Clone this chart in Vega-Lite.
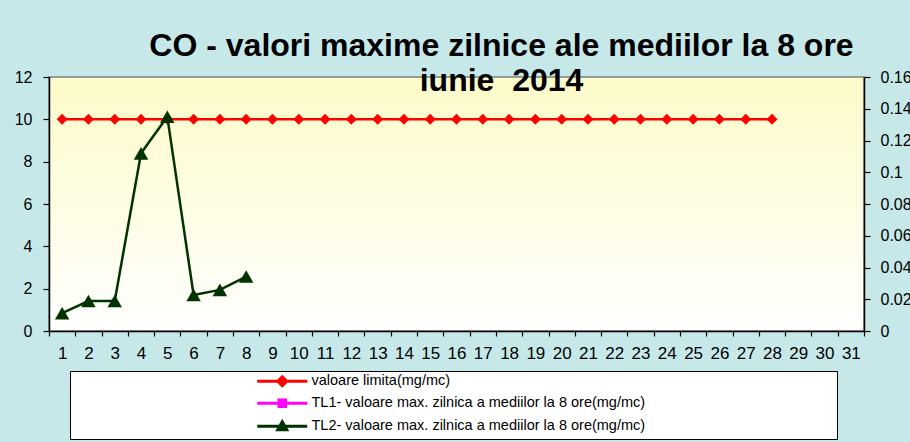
{
  "$schema": "https://vega.github.io/schema/vega-lite/v6.json",
  "width": 815,
  "height": 254,
  "autosize": {"type": "none"},
  "padding": {"left": 49, "top": 77, "right": 46, "bottom": 111},
  "background": "#c6e8e9",
  "title": {
    "text": ["CO - valori maxime zilnice ale mediilor la 8 ore", "iunie\u00a0 2014"],
    "font": "Liberation Sans",
    "fontSize": 32,
    "fontWeight": "bold",
    "color": "#000000",
    "anchor": "middle",
    "dx": 45,
    "offset": -29,
    "lineHeight": 35
  },
  "config": {
    "view": {
      "fill": {
        "gradient": "linear",
        "x1": 0, "y1": 0, "x2": 0, "y2": 1,
        "stops": [
          {"offset": 0, "color": "#fdfbc8"},
          {"offset": 1, "color": "#ffffff"}
        ]
      },
      "stroke": "#7f7f7f",
      "strokeWidth": 1.5
    },
    "axis": {
      "domainColor": "#000000",
      "tickColor": "#000000",
      "labelColor": "#000000",
      "labelFont": "Liberation Sans",
      "labelFontSize": 16,
      "grid": false,
      "title": null,
      "tickSize": 6,
      "domainWidth": 1.5,
      "tickWidth": 1.2
    },
    "legend": {
      "labelFont": "Liberation Sans",
      "labelFontSize": 14.5,
      "labelColor": "#000000"
    }
  },
  "datasets": {
    "d": [
      {"day": 1, "series": "valoare limita(mg/mc)", "value": 10},
      {"day": 2, "series": "valoare limita(mg/mc)", "value": 10},
      {"day": 3, "series": "valoare limita(mg/mc)", "value": 10},
      {"day": 4, "series": "valoare limita(mg/mc)", "value": 10},
      {"day": 5, "series": "valoare limita(mg/mc)", "value": 10},
      {"day": 6, "series": "valoare limita(mg/mc)", "value": 10},
      {"day": 7, "series": "valoare limita(mg/mc)", "value": 10},
      {"day": 8, "series": "valoare limita(mg/mc)", "value": 10},
      {"day": 9, "series": "valoare limita(mg/mc)", "value": 10},
      {"day": 10, "series": "valoare limita(mg/mc)", "value": 10},
      {"day": 11, "series": "valoare limita(mg/mc)", "value": 10},
      {"day": 12, "series": "valoare limita(mg/mc)", "value": 10},
      {"day": 13, "series": "valoare limita(mg/mc)", "value": 10},
      {"day": 14, "series": "valoare limita(mg/mc)", "value": 10},
      {"day": 15, "series": "valoare limita(mg/mc)", "value": 10},
      {"day": 16, "series": "valoare limita(mg/mc)", "value": 10},
      {"day": 17, "series": "valoare limita(mg/mc)", "value": 10},
      {"day": 18, "series": "valoare limita(mg/mc)", "value": 10},
      {"day": 19, "series": "valoare limita(mg/mc)", "value": 10},
      {"day": 20, "series": "valoare limita(mg/mc)", "value": 10},
      {"day": 21, "series": "valoare limita(mg/mc)", "value": 10},
      {"day": 22, "series": "valoare limita(mg/mc)", "value": 10},
      {"day": 23, "series": "valoare limita(mg/mc)", "value": 10},
      {"day": 24, "series": "valoare limita(mg/mc)", "value": 10},
      {"day": 25, "series": "valoare limita(mg/mc)", "value": 10},
      {"day": 26, "series": "valoare limita(mg/mc)", "value": 10},
      {"day": 27, "series": "valoare limita(mg/mc)", "value": 10},
      {"day": 28, "series": "valoare limita(mg/mc)", "value": 10},
      {"day": 1, "series": "TL2- valoare max. zilnica a mediilor la 8 ore(mg/mc)", "value": 0.0112},
      {"day": 2, "series": "TL2- valoare max. zilnica a mediilor la 8 ore(mg/mc)", "value": 0.0189},
      {"day": 3, "series": "TL2- valoare max. zilnica a mediilor la 8 ore(mg/mc)", "value": 0.0189},
      {"day": 4, "series": "TL2- valoare max. zilnica a mediilor la 8 ore(mg/mc)", "value": 0.1119},
      {"day": 5, "series": "TL2- valoare max. zilnica a mediilor la 8 ore(mg/mc)", "value": 0.135},
      {"day": 6, "series": "TL2- valoare max. zilnica a mediilor la 8 ore(mg/mc)", "value": 0.0227},
      {"day": 7, "series": "TL2- valoare max. zilnica a mediilor la 8 ore(mg/mc)", "value": 0.0259},
      {"day": 8, "series": "TL2- valoare max. zilnica a mediilor la 8 ore(mg/mc)", "value": 0.0343}
    ]
  },
  "data": {"name": "d"},
  "encoding": {
    "x": {
      "field": "day",
      "type": "ordinal",
      "scale": {
        "type": "band",
        "domain": [1,2,3,4,5,6,7,8,9,10,11,12,13,14,15,16,17,18,19,20,21,22,23,24,25,26,27,28,29,30,31],
        "paddingInner": 0,
        "paddingOuter": 0
      },
      "axis": {
        "labelAngle": 0,
        "tickBand": "extent",
        "tickSize": 5,
        "labelPadding": 9,
        "labelFontSize": 17
      }
    },
    "color": {
      "field": "series",
      "type": "nominal",
      "scale": {
        "domain": [
          "valoare limita(mg/mc)",
          "TL1- valoare max. zilnica a mediilor la 8 ore(mg/mc)",
          "TL2- valoare max. zilnica a mediilor la 8 ore(mg/mc)"
        ],
        "range": ["#ff0000", "#ff00ff", "#003300"]
      },
      "legend": {
        "title": null,
        "orient": "none",
        "legendX": 21,
        "legendY": 294,
        "direction": "vertical",
        "fillColor": "#ffffff",
        "strokeColor": "#000000",
        "padding": 3,
        "symbolSize": 100,
        "symbolStrokeWidth": 3,
        "symbolOffset": 202,
        "labelOffset": 22,
        "labelLimit": 0,
        "rowPadding": 2,
        "encode": {
          "symbols": {
            "update": {
              "shape": {"signal": "datum.value === 'valoare limita(mg/mc)' ? 'M-5,0H5M0,-0.9L0.9,0L0,0.9L-0.9,0ZM109,0' : (datum.value === 'TL2- valoare max. zilnica a mediilor la 8 ore(mg/mc)' ? 'M-5,0H5M0,-0.9L0.9,0.7L-0.9,0.7ZM109,0' : 'M-5,0H5M-0.65,-0.65H0.65V0.65H-0.65ZM109,0')"},
              "fill": {"signal": "scale('color', datum.value)"},
              "stroke": {"signal": "scale('color', datum.value)"},
              "strokeWidth": {"value": 3},
              "opacity": {"value": 1}
            }
          }
        }
      }
    }
  },
  "layer": [
    {
      "transform": [{"filter": "datum.series === 'valoare limita(mg/mc)'"}],
      "mark": {
        "type": "line",
        "strokeWidth": 2.5,
        "point": {"shape": "diamond", "size": 120, "filled": true, "opacity": 1}
      },
      "encoding": {
        "y": {
          "field": "value",
          "type": "quantitative",
          "scale": {"domain": [0, 12], "nice": false, "zero": true},
          "axis": {"orient": "left", "values": [0, 2, 4, 6, 8, 10, 12], "format": "d", "labelPadding": 11}
        }
      }
    },
    {
      "transform": [{"filter": "datum.series === 'TL2- valoare max. zilnica a mediilor la 8 ore(mg/mc)'"}],
      "mark": {
        "type": "line",
        "strokeWidth": 2.5,
        "point": {"shape": "triangle-up", "size": 210, "filled": true, "opacity": 1}
      },
      "encoding": {
        "y": {
          "field": "value",
          "type": "quantitative",
          "scale": {"domain": [0, 0.16], "nice": false, "zero": true},
          "axis": {"orient": "right", "values": [0, 0.02, 0.04, 0.06, 0.08, 0.1, 0.12, 0.14, 0.16], "format": "~g", "labelPadding": 10}
        }
      }
    }
  ],
  "resolve": {"scale": {"y": "independent"}}
}
